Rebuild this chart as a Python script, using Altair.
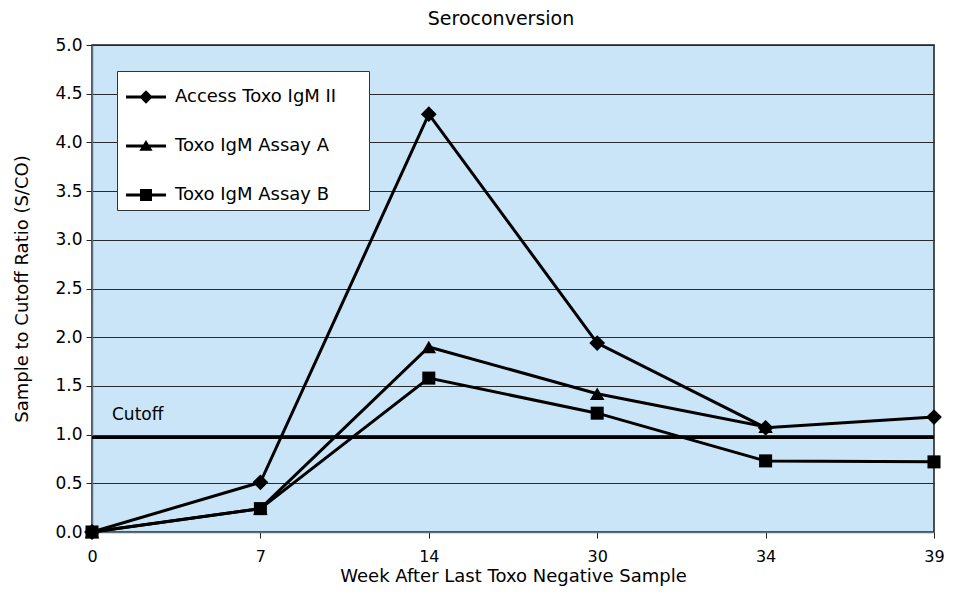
import altair as alt
import pandas as pd

weeks = ["0", "7", "14", "30", "34", "39"]
series_names = ["Access Toxo IgM II", "Toxo IgM Assay A", "Toxo IgM Assay B"]
access_vals = [0.0, 0.51, 4.29, 1.94, 1.07, 1.18]
assay_a_vals = [0.0, 0.24, 1.90, 1.42, 1.08, None]
assay_b_vals = [0.0, 0.24, 1.58, 1.22, 0.73, 0.72]
cutoff_value = 0.97
cutoff_label_y = 1.2

rows = []
for name, vals in zip(series_names, [access_vals, assay_a_vals, assay_b_vals]):
    for w, v in zip(weeks, vals):
        if v is not None:
            rows.append({"week": w, "value": v, "series": name})
df = pd.DataFrame(rows)

FONT = "DejaVu Sans"
W, H = 842, 487

x_enc = alt.X("week:O", sort=weeks,
              scale=alt.Scale(type="point", padding=0),
              axis=alt.Axis(title="Week After Last Toxo Negative Sample", labelAngle=0,
                            labelPadding=10, labelFontSize=16, tickSize=6, titlePadding=3, grid=False))
y_enc = alt.Y("value:Q", scale=alt.Scale(domain=[0, 5], nice=False),
              axis=alt.Axis(title="Sample to Cutoff Ratio (S/CO)", values=[i * 0.5 for i in range(11)],
                            format=".1f", tickSize=6, labelPadding=4, titlePadding=23))

base = alt.Chart(df)

cutoff = alt.Chart(pd.DataFrame({"c": [cutoff_value]})).mark_rule(
    color="black", strokeWidth=3).encode(y=alt.Y("c:Q", scale=alt.Scale(domain=[0, 5])))

cutoff_text = alt.Chart(pd.DataFrame({"week": ["0"], "y": [cutoff_label_y], "t": ["Cutoff"]})).mark_text(
    align="left", baseline="middle", dx=20, fontSize=17, font=FONT, color="black").encode(
    x=alt.X("week:O", sort=weeks), y="y:Q", text="t:N")

lines = base.mark_line(color="black", strokeWidth=3).encode(
    x=x_enc, y=y_enc, detail="series:N")

points = base.mark_point(filled=True, color="black", opacity=1).encode(
    x=alt.X("week:O", sort=weeks), y="value:Q",
    shape=alt.Shape("series:N", sort=series_names,
                    scale=alt.Scale(domain=series_names, range=["diamond", "triangle-up", "square"]),
                    legend=None),
    size=alt.Size("series:N", sort=series_names,
                  scale=alt.Scale(domain=series_names, range=[250, 170, 150]), legend=None))

legend_paths = [
    "M-1,-0.075L1,-0.075L1,0.075L-1,0.075ZM-0.34,0L0,-0.34L0.34,0L0,0.34Z",
    "M-1,-0.075L1,-0.075L1,0.075L-1,0.075ZM-0.33,0.24L0,-0.3L0.33,0.24Z",
    "M-1,-0.075L1,-0.075L1,0.075L-1,0.075ZM-0.3,-0.3L0.3,-0.3L0.3,0.3L-0.3,0.3Z",
]

legend_layer = alt.Chart(df).transform_calculate(leg="datum.series").mark_point(
    filled=True, color="black", opacity=0, size=1600).encode(
    x=alt.X("week:O", sort=weeks), y="value:Q",
    shape=alt.Shape("leg:N", sort=series_names,
                    scale=alt.Scale(domain=series_names, range=legend_paths),
                    legend=alt.Legend(title=None, orient="none", legendX=25, legendY=26,
                                      fillColor="white", strokeColor="#333",
                                      padding=6, symbolOffset=3, labelOffset=9,
                                      rowPadding=20, symbolSize=1600, labelLimit=400,
                                      symbolFillColor="black", symbolStrokeWidth=0,
                                      symbolOpacity=1,
                                      labelFont=FONT, labelFontSize=18, labelColor="black",
                                      labelExpr="datum.label + '\u2800\u2800'")))

chart = alt.layer(cutoff, lines, points, legend_layer, cutoff_text).resolve_scale(
    shape="independent", size="independent").resolve_legend(shape="independent").properties(
    width=W, height=H,
    autosize=alt.AutoSizeParams(type="none"),
    padding={"left": 84, "top": 37, "right": 11, "bottom": 56},
    title=alt.TitleParams("Seroconversion", font=FONT, fontSize=19, fontWeight="normal",
                          color="black", anchor="middle", dx=-12, offset=7),
).configure_view(fill="#C9E5F7", stroke="#1a1a1a", strokeWidth=1.5).configure_axis(
    labelFont=FONT, titleFont=FONT, labelFontSize=17, titleFontSize=18,
    labelColor="black", titleColor="black", titleFontWeight="normal",
    domainColor="#5f6f7c", domainWidth=1.5, tickColor="#222", gridColor="#2a2a2a", gridWidth=1,
).configure_axisY(grid=True)

chart.save("out.html", embed_options={"renderer": "svg", "actions": False})
